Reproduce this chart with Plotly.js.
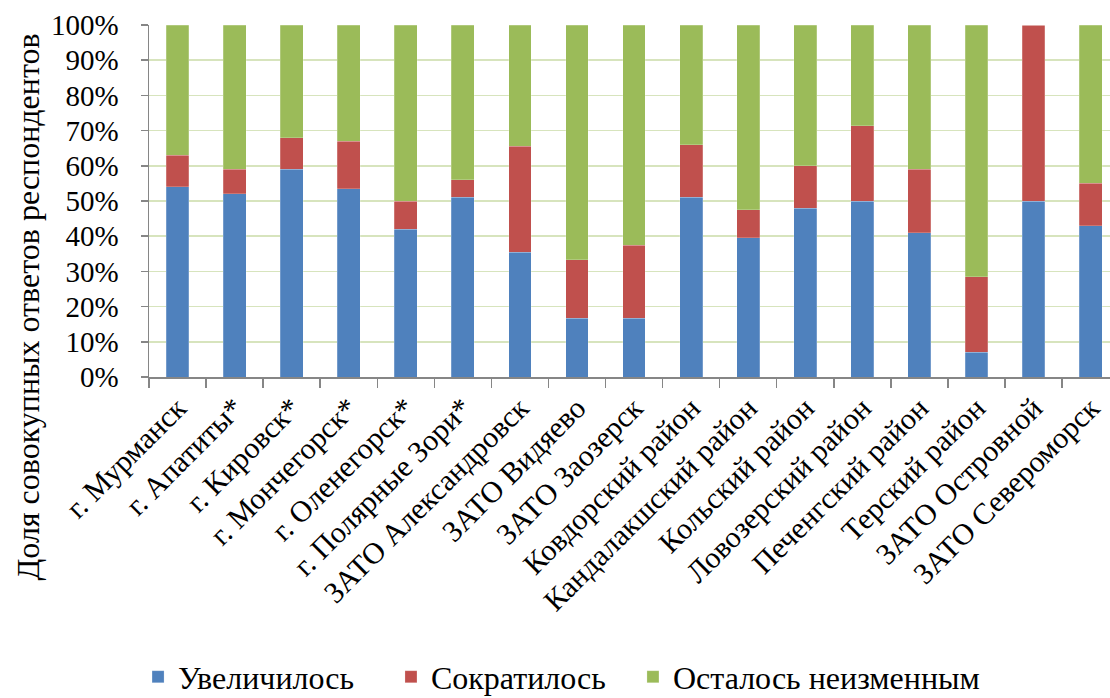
<!DOCTYPE html>
<html>
<head>
<meta charset="utf-8">
<script src="https://cdn.plot.ly/plotly-3.0.1.min.js"></script>
<style>html,body{margin:0;padding:0;background:#fff;}#chart{width:1110px;height:698px;}</style>
</head>
<body>
<div id="chart"></div>
<script>
var categories = ["г. Мурманск","г. Апатиты*","г. Кировск*","г. Мончегорск*","г. Оленегорск*","г. Полярные Зори*","ЗАТО Александровск","ЗАТО Видяево","ЗАТО Заозерск","Ковдорский район","Кандалакшский район","Кольский район","Ловозерский район","Печенгский район","Терский район","ЗАТО Островной","ЗАТО Североморск"];
var increased = [54, 52, 59, 53.5, 42, 51, 35.5, 16.7, 16.7, 51, 39.5, 48, 50, 41, 7.1, 50, 43];
var decreased = [9, 7, 9, 13.5, 8, 5, 30, 16.6, 20.8, 15, 8, 12, 21.4, 18, 21.4, 50, 12];
var unchanged = [37, 41, 32, 33, 50, 44, 34.5, 66.7, 62.5, 34, 52.5, 40, 28.6, 41, 71.5, 0, 45];
var seriesNames = ["Увеличилось","Сократилось","Осталось неизменным"];
var yTickVals = [0,10,20,30,40,50,60,70,80,90,100];
var yTickText = ["0%","10%","20%","30%","40%","50%","60%","70%","80%","90%","100%"];

var colors = ["#4f81bd","#c0504d","#9bbb59"];
var font = "'Liberation Serif', 'Times New Roman', serif";
var vals = [increased, decreased, unchanged];
var legendIds = ["legend","legend2","legend3"];
var traces = vals.map(function(v,i){
  return {type:"bar", x:categories, y:v, name:seriesNames[i], legend:legendIds[i],
    marker:{color:colors[i], line:{color:"rgba(255,255,255,0.35)", width:0.6}},
    hoverinfo:"skip"};
});
function leg(x){
  return {orientation:"h", x:x, xanchor:"left", y:-0.852, yanchor:"middle",
    itemwidth:30, bgcolor:"rgba(0,0,0,0)",
    font:{family:font, size:32, color:"#000"}};
}
var layout = {
  width:1110, height:698,
  margin:{l:149, r:0, t:25, b:321, autoexpand:false},
  barmode:"stack", bargap:0.6,
  paper_bgcolor:"#fff", plot_bgcolor:"#fff",
  font:{family:font, color:"#000", size:29},
  xaxis:{type:"category", range:[-0.5,16.34], tickangle:-45, tickson:"boundaries",
    ticks:"outside", ticklen:9, tickcolor:"#868686", tickwidth:1.5,
    showline:true, linecolor:"#868686", linewidth:1.5, showgrid:false,
    tickfont:{family:font, size:30, color:"#000"}, automargin:false},
  yaxis:{range:[0,100], tickvals:yTickVals, ticktext:yTickText,
    ticks:"outside", ticklen:7, tickcolor:"#868686", tickwidth:1.5,
    showline:true, linecolor:"#868686", linewidth:1.5, ticklabelstandoff:16,
    showgrid:true, gridcolor:"#d7e4bd", gridwidth:1.5, zeroline:false,
    tickfont:{family:font, size:29, color:"#000"}, automargin:false},
  showlegend:true,
  legend:leg(-0.0114),
  legend2:leg(0.2518),
  legend3:leg(0.5036),
  annotations:[{text:"Доля совокупных ответов респондентов", xref:"paper", yref:"paper",
    x:-0.126, y:0.2, xanchor:"center", yanchor:"middle", textangle:-90, showarrow:false,
    font:{family:font, size:32, color:"#000"}}]
};
Plotly.newPlot("chart", traces, layout, {displayModeBar:false, staticPlot:true});
</script>
</body>
</html>
